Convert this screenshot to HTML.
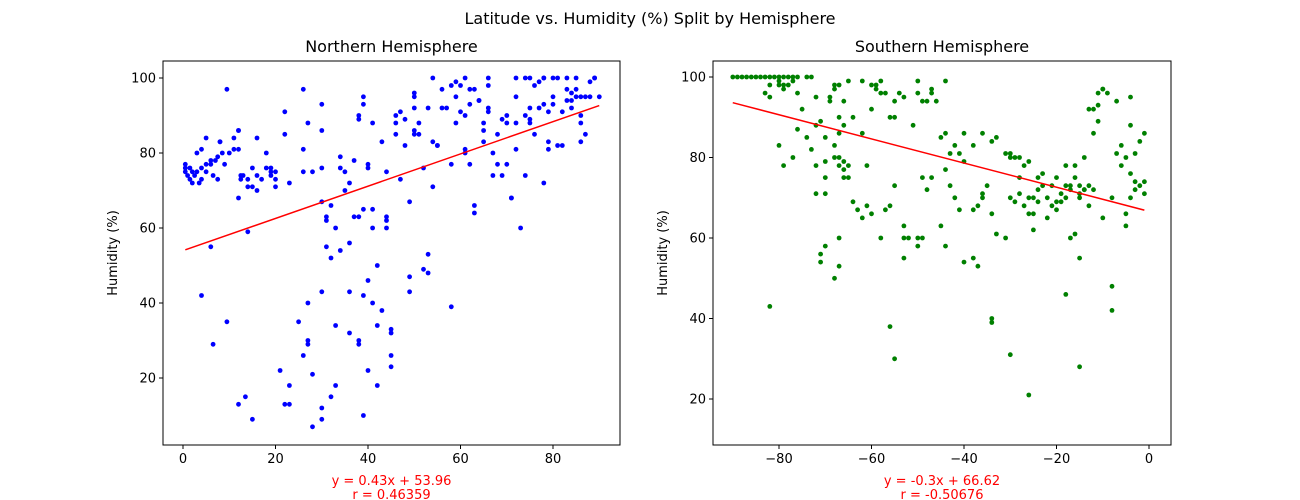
<!DOCTYPE html>
<html><head><meta charset="utf-8"><style>
html,body{margin:0;padding:0;background:#fff;}
svg{display:block;font-family:"DejaVu Sans","Liberation Sans",sans-serif;}
</style></head><body>
<svg id="fig" width="1300" height="500" viewBox="0 0 1300 500">
<text x="650" y="24" text-anchor="middle" font-size="16">Latitude vs. Humidity (%) Split by Hemisphere</text>
</svg>
<script>
const northLat=[0.5,0.5,0.5,1,1.5,1.5,2,2,2.5,3,3,3.5,4,4,4,5,5,5,6,6,6.5,7,7.5,7.5,8,8,8.5,9,9.5,10,11,11,12,12,12,12.5,12,12.5,13,14,14,15,15,16,16,16,17,18,18,19,19,19,20,20,20,4,6,6.5,9.5,12,14,13.5,15,21,22,23,23,22,22,23,25,26,26,26,26,27,27,27,27,28,28,28,30,30,30,30,30,30,30,31,31,31,32,32,32,33,33,33,34,34,34,35,35,36,36,36,36,37,37,38,38,38,38,38,39,39,39,39,39,40,40,40,40,41,41,41,41,42,42,42,43,43,44,44,44,44,45,45,45,45,46,46,46,47,47,48,48,49,49,49,50,50,50,50,50,51,51,52,52,53,53,53,54,54,54,55,55,56,56,57,58,58,58,59,59,59,60,60,61,61,61,61,62,62,62,63,63,63,64,64,65,65,65,66,66,66,66,67,67,68,68,69,69,70,70,70,71,71,72,72,72,72,73,74,74,74,75,75,75,75,76,76,77,77,78,78,78,79,79,80,80,80,81,81,82,83,83,83,84,84,85,85,85,86,86,86,87,87,88,89,89,90,88,84,86,82,78,79];
const northHum=[75,76,77,74,73,76,72,75,74,75,80,72,76,81,73,77,84,75,77,78,74,78,79,73,83,83,80,77,97,80,84,81,86,86,81,73,68,74,74,71,73,71,76,70,84,74,73,80,76,76,75,74,73,71,75,42,55,29,35,13,59,15,9,22,13,18,13,91,85,72,35,26,81,75,97,40,30,29,88,7,21,75,93,86,76,67,43,9,12,62,55,63,66,52,15,60,34,18,76,54,79,70,75,72,43,56,32,78,63,89,90,63,29,30,65,93,95,42,10,77,76,22,46,88,65,60,40,18,34,50,83,38,63,75,62,60,26,23,33,32,85,90,88,91,73,89,82,67,43,47,96,95,86,92,85,85,88,76,49,92,53,48,100,83,71,82,82,97,92,92,98,77,39,99,88,95,91,98,100,90,81,80,93,77,97,97,66,64,94,94,83,86,88,98,100,91,92,80,74,85,77,89,74,90,77,88,68,68,81,100,95,88,60,100,90,74,92,100,88,89,98,85,99,92,72,93,100,83,81,95,93,100,100,82,91,94,97,100,96,94,97,100,95,90,88,83,85,95,95,100,100,95,99,92,95,82,100,91];
const southLat=[-90,-89,-88,-87,-86,-85,-84,-83,-82,-81,-80,-79,-78,-77,-76,-74,-73,-83,-82,-82,-80,-80,-79,-79,-78,-77,-80,-79,-77,-76,-76,-75,-74,-73,-72,-71,-70,-69,-68,-68,-67,-67,-66,-65,-69,-66,-67,-67,-68,-68,-70,-70,-70,-72,-72,-72,-67,-66,-66,-65,-64,-62,-62,-61,-60,-60,-59,-58,-59,-58,-57,-56,-55,-54,-55,-53,-51,-50,-50,-49,-48,-47,-47,-46,-44,-45,-44,-43,-42,-41,-40,-38,-36,-34,-33,-31,-30,-30,-29,-28,-27,-26,-26,-25,-25,-24,-24,-23,-23,-22,-21,-20,-20,-19,-19,-18,-18,-17,-17,-16,-16,-15,-15,-14,-14,-13,-13,-12,-12,-11,-11,-11,-10,-10,-9,-7,-6,-5,-5,-4,-4,-3,-3,-2,-2,-1,-1,-4,-4,-3,-1,-6,-7,-5,-8,-10,-12,-13,-14,-15,-16,-17,-18,-20,-21,-22,-24,-25,-26,-27,-28,-28,-29,-30,-31,-33,-34,-35,-36,-36,-37,-38,-38,-40,-41,-42,-43,-44,-45,-47,-48,-49,-50,-52,-53,-55,-56,-57,-58,-60,-61,-62,-63,-64,-65,-66,-67,-70,-71,-71,-68,-67,-82,-56,-55,-34,-34,-30,-15,-15,-26,-18,-8,-8,-37,-44,-40,-50,-49,-53,-53];
const southHum=[100,100,100,100,100,100,100,100,100,100,100,100,100,100,100,100,100,96,95,98,99,98,98,97,98,99,83,78,80,87,96,92,85,82,95,89,85,94,97,98,98,90,94,99,95,88,78,86,83,80,71,79,75,71,78,88,80,77,79,78,90,99,86,78,98,92,98,99,97,96,96,90,90,96,94,95,88,96,99,94,94,97,96,94,99,85,86,81,83,81,86,83,86,84,85,81,81,80,80,71,68,66,70,66,62,72,75,76,73,70,68,75,67,71,69,73,70,73,72,75,78,71,70,80,72,73,92,92,86,89,93,96,97,97,96,94,83,80,66,76,70,74,72,73,84,86,74,95,88,81,71,78,81,63,70,65,72,68,72,73,61,60,78,69,73,65,69,70,79,78,80,75,69,70,60,61,66,73,70,71,68,67,55,79,67,70,73,77,63,75,72,75,60,60,63,73,68,67,60,66,68,65,67,69,75,75,60,58,54,56,50,53,43,38,30,40,39,31,55,28,21,46,48,42,53,58,54,58,60,60,55];
const northXTicks=[0,20,40,60,80];
const northYTicks=[20,40,60,80,100];
const southXTicks=[-80,-60,-40,-20,0];
const southYTicks=[20,40,60,80,100];
const northFit=[0.43,53.96];
const southFit=[-0.3,66.62];
const northLabels=["y = 0.43x + 53.96","r = 0.46359"];
const southLabels=["y = -0.3x + 66.62","r = -0.50676"];

const NS="http://www.w3.org/2000/svg";
const svg=document.getElementById('fig');
function mk(tag,attrs,parent){const e=document.createElementNS(NS,tag);for(const k in attrs)e.setAttribute(k,attrs[k]);(parent||svg).appendChild(e);return e;}

function panel(cfg){
  const g=mk('g',{});
  
  
  const sx=v=>cfg.x0+(v-cfg.xd0)*(cfg.x1-cfg.x0)/(cfg.xd1-cfg.xd0);
  const sy=v=>cfg.y0+(v-cfg.yd0)*(cfg.y1-cfg.y0)/(cfg.yd1-cfg.yd0);
  const L=cfg.left,R=cfg.right,T=61,B=445;
  for(let i=0;i<cfg.xs.length;i++){
    const c=mk('circle',{cx:sx(cfg.xs[i]).toFixed(1),cy:sy(cfg.ys[i]).toFixed(1),r:2.4,fill:cfg.color},g);
    
    
  }
  const xmin=Math.min(...cfg.xs),xmax=Math.max(...cfg.xs);
  const ln=mk('line',{x1:sx(xmin),y1:sy(cfg.fit[0]*xmin+cfg.fit[1]),x2:sx(xmax),y2:sy(cfg.fit[0]*xmax+cfg.fit[1]),stroke:'red','stroke-width':1.5},g);
  
  
  const fr=mk('rect',{x:L,y:T,width:R-L,height:B-T,fill:'none',stroke:'#000','stroke-width':1},g);
  
  
  cfg.xt.forEach(t=>{
    const x=sx(t);
    mk('line',{x1:x,y1:B,x2:x,y2:B+4,stroke:'#000'},g);
    const tx=mk('text',{x:x,y:B+18,'text-anchor':'middle','font-size':13},g);
    tx.textContent=t<0?'\u2212'+(-t):String(t);
    
    
  });
  cfg.yt.forEach(t=>{
    const y=sy(t);
    mk('line',{x1:L-4,y1:y,x2:L,y2:y,stroke:'#000'},g);
    const tx=mk('text',{x:L-7,y:y+4.5,'text-anchor':'end','font-size':13},g);
    tx.textContent=String(t);
    
    
  });
  const ti=mk('text',{x:(L+R)/2,y:52,'text-anchor':'middle','font-size':16},g);
  ti.textContent=cfg.title;
  
  
  const yl=mk('text',{x:0,y:0,'text-anchor':'middle','font-size':13,transform:`translate(${L-46},${(T+B)/2}) rotate(-90)`},g);
  yl.textContent='Humidity (%)';
  
  
  cfg.labels.forEach((s,i)=>{
    const a=mk('text',{x:(L+R)/2,y:485+i*14,'text-anchor':'middle','font-size':13,fill:'red'},g);
    a.textContent=s;
    
    
  });
}
panel({name:'northern-panel',left:163,right:620,x0:183,x1:553,xd0:0,xd1:80,y0:78,y1:378,yd0:100,yd1:20,
  xs:northLat,ys:northHum,xt:northXTicks,yt:northYTicks,fit:northFit,labels:northLabels,color:'blue',title:'Northern Hemisphere'});
panel({name:'southern-panel',left:713,right:1171,x0:779,x1:1149,xd0:-80,xd1:0,y0:77,y1:399,yd0:100,yd1:20,
  xs:southLat,ys:southHum,xt:southXTicks,yt:southYTicks,fit:southFit,labels:southLabels,color:'green',title:'Southern Hemisphere'});
</script>
</body></html>
